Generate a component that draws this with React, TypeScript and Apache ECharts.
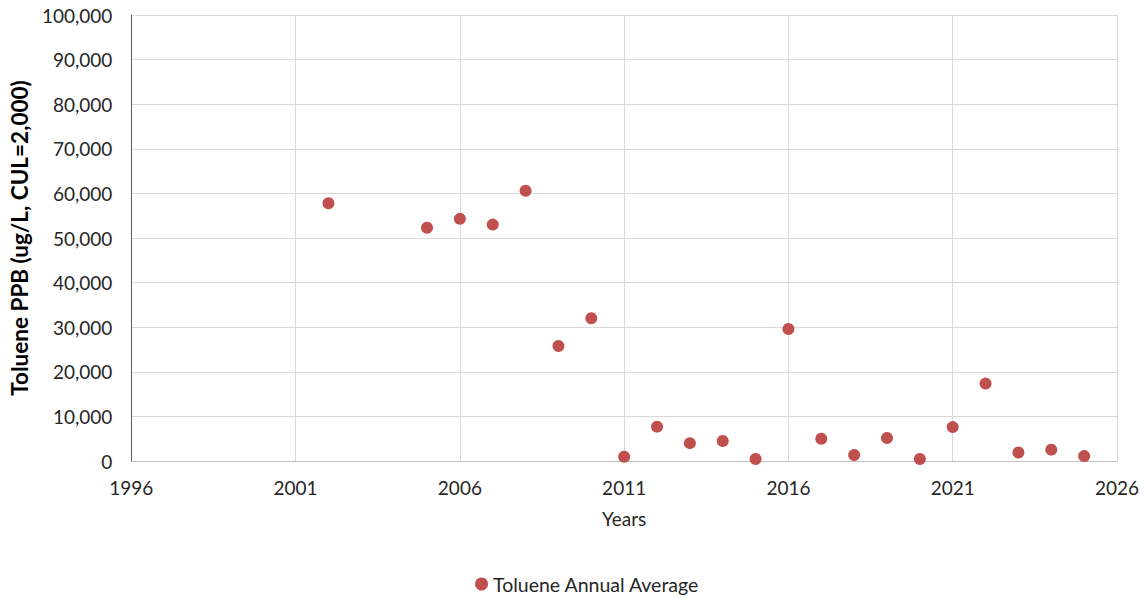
import React, { useEffect, useRef } from "react";
import * as echarts from "echarts";

// Annual average toluene concentrations (ug/L)
const years = [2002, 2005, 2006, 2007, 2008, 2009, 2010, 2011, 2012, 2013, 2014, 2015, 2016, 2017, 2018, 2019, 2020, 2021, 2022, 2023, 2024, 2025];
const tolueneAvg = [57800, 52300, 54300, 53000, 60600, 25800, 32000, 950, 7700, 4000, 4500, 450, 29600, 5000, 1350, 5150, 450, 7600, 17350, 1900, 2550, 1100];

const seriesName = "Toluene Annual Average";
const xAxisTitle = "Years";
const yAxisTitle = "Toluene PPB (ug/L, CUL=2,000)";

const FONT = "Lato, 'Open Sans', sans-serif";

export default function App() {
  const ref = useRef<HTMLDivElement>(null);

  useEffect(() => {
    document.body.style.margin = "0";
    if (!ref.current) return;
    const chart = echarts.init(ref.current, null, { renderer: "svg" });
    const points = years.map((y, i) => [y, tolueneAvg[i]]);
    chart.setOption({
      animation: false,
      backgroundColor: "#ffffff",
      textStyle: { fontFamily: FONT },
      grid: { left: 130, right: 30, top: 15, bottom: 138, containLabel: false },
      legend: {
        data: [seriesName],
        top: 569,
        left: 470,
        icon: "circle",
        itemWidth: 13,
        itemHeight: 13,
        itemGap: 4,
        textStyle: { fontSize: 19.5, color: "#262626", fontFamily: FONT },
      },
      xAxis: {
        type: "value",
        min: 1996,
        max: 2026,
        interval: 5,
        name: xAxisTitle,
        nameLocation: "middle",
        nameGap: 48,
        nameTextStyle: { fontSize: 19, color: "#262626", fontFamily: FONT },
        axisLine: { show: true, onZero: false, lineStyle: { color: "#bfbfbf", width: 1 } },
        axisTick: { show: false },
        axisLabel: {
          fontSize: 19,
          color: "#262626",
          margin: 17,
          formatter: (v: number) => String(v),
        },
        splitLine: { show: true, lineStyle: { color: "#d9d9d9", width: 1 } },
      },
      yAxis: {
        type: "value",
        min: 0,
        max: 100000,
        interval: 10000,
        name: yAxisTitle,
        nameLocation: "middle",
        nameGap: 96,
        nameTextStyle: { fontSize: 22.5, fontWeight: "bold", color: "#000000", fontFamily: FONT },
        axisLine: { show: true, lineStyle: { color: "#595959", width: 1 } },
        axisTick: { show: false },
        axisLabel: {
          fontSize: 19,
          color: "#262626",
          margin: 19,
          formatter: (v: number) => v.toLocaleString("en-US"),
        },
        splitLine: { show: true, lineStyle: { color: "#d9d9d9", width: 1 } },
      },
      series: [
        {
          name: seriesName,
          type: "scatter",
          data: points,
          symbol: "circle",
          symbolSize: 12,
          itemStyle: { color: "#C0504D", opacity: 1 },
        },
      ],
    });
    return () => chart.dispose();
  }, []);

  return <div ref={ref} style={{ width: 1147, height: 599 }} />;
}
